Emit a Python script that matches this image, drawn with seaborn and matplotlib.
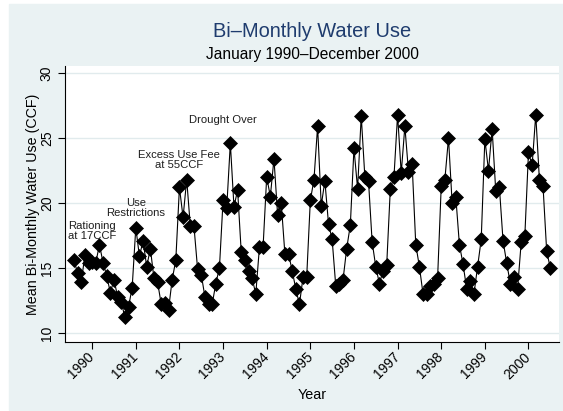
import numpy as np
import pandas as pd
import matplotlib
matplotlib.use("Agg")
import matplotlib.pyplot as plt
import seaborn as sns
from matplotlib.patches import Rectangle

# monthly readings, Jan 1990 - Dec 2000 (one row per year)
start_year = 1990
mean_use = [
    15.6, 14.6, 13.9, 16.0, 15.4, 15.5, 15.4, 16.8, 15.4, 14.4, 13.1, 14.1,
    12.8, 12.4, 11.2, 12.0, 13.5, 18.1, 15.9, 17.1, 15.1, 16.5, 14.2, 13.9,
    12.2, 12.3, 11.8, 14.1, 15.6, 21.2, 18.9, 21.8, 18.2, 18.2, 14.9, 14.5,
    12.8, 12.2, 12.2, 13.8, 15.0, 20.2, 19.6, 24.6, 19.7, 21.0, 16.2, 15.6,
    14.8, 14.2, 13.0, 16.6, 16.6, 22.0, 20.5, 23.4, 19.1, 20.0, 16.1, 16.1,
    14.8, 13.4, 12.2, 14.3, 14.3, 20.2, 21.8, 25.9, 19.8, 21.7, 18.4, 17.2,
    13.6, 13.8, 14.1, 16.5, 18.3, 24.2, 21.1, 26.7, 22.0, 21.7, 17.0, 15.1,
    13.8, 14.8, 15.2, 21.1, 22.0, 26.8, 22.3, 25.9, 22.4, 23.0, 16.8, 15.1,
    13.0, 13.0, 13.6, 13.8, 14.2, 21.3, 21.8, 25.0, 20.0, 20.5, 16.8, 15.3,
    13.4, 14.0, 13.0, 15.1, 17.2, 24.9, 22.5, 25.7, 20.9, 21.2, 17.1, 15.4,
    13.8, 14.3, 13.4, 17.0, 17.5, 23.9, 22.9, 26.8, 21.8, 21.3, 16.3, 15.0,
]
tick_years = list(range(1990, 2001))
y_ticks = [10, 15, 20, 25, 30]
note_text = ["Rationing\nat 17CCF", "Use\nRestrictions",
             "Excess Use Fee\nat 55CCF", "Drought Over"]
note_year = [1990, 1991, 1992, 1993]

df = pd.DataFrame({
    "t": start_year + np.arange(len(mean_use)) / 12,
    "use": mean_use,
})

sns.set_theme(style="ticks")
plt.rcParams["font.family"] = ["Liberation Sans", "DejaVu Sans"]

W, H = 563, 411
bg = "#eaf2f3"
fig = plt.figure(figsize=(W / 100, H / 100), dpi=100)
fig.patch.set_facecolor("white")
fig.patches.append(Rectangle((9 / W, 1 / H), (W - 9) / W, 406 / H,
                             transform=fig.transFigure, color=bg, zorder=-10))

ax = fig.add_axes([65 / W, (H - 342.3) / H, 494 / W, 276.3 / H])
ax.set_facecolor("white")
for g in y_ticks:
    ax.axhline(g, color="#e1ebed", lw=1.0, zorder=0)

sns.lineplot(data=df, x="t", y="use", ax=ax, color="black", lw=0.8,
             marker="D", markersize=7.5, markeredgecolor="black",
             markeredgewidth=0.5)

# tick positions sit at June of each year
ax.set_xticks([y + 5 / 12 for y in tick_years])
ax.set_xticklabels([str(y) for y in tick_years], rotation=45,
                   ha="right", va="center", rotation_mode="anchor")
ax.set_yticks(y_ticks)
ax.set_yticklabels([str(v) for v in y_ticks], rotation=90, va="center")
ax.set_xlim(1989.794, 2001.116)
ax.set_ylim(9.285, 30.54)

ax.tick_params(axis="both", direction="out", length=5, width=0.8,
               color="black", labelsize=10, labelcolor="black")
ax.tick_params(axis="x", pad=4)
ax.tick_params(axis="y", pad=3)
sns.despine(ax=ax)
for s in ["left", "bottom"]:
    ax.spines[s].set_color("black")
    ax.spines[s].set_linewidth(0.8)

ax.set_xlabel("Year", fontsize=10.3, color="black")
ax.set_ylabel("Mean Bi-Monthly Water Use (CCF)", fontsize=10.3, color="black")
ax.xaxis.set_label_coords(0.5, -0.165)
ax.yaxis.set_label_coords(-0.051, 0.5)

note_level = [17.85, 19.6, 23.3, 26.35]
for txt, yr, lv in zip(note_text, note_year, note_level):
    ax.text(yr + 5 / 12, lv, txt, ha="center", va="center", fontsize=8.1,
            color="#1e1e1e", linespacing=1.0)

fig.text(312 / W, (H - 31.7) / H, "Bi\u2013Monthly Water Use", ha="center",
         va="center", fontsize=14.4, color="#1f3c6e")
fig.text(312 / W, (H - 54.7) / H, "January 1990\u2013December 2000",
         ha="center", va="center", fontsize=11.2, color="black")

fig.savefig("out.png", dpi=100)
